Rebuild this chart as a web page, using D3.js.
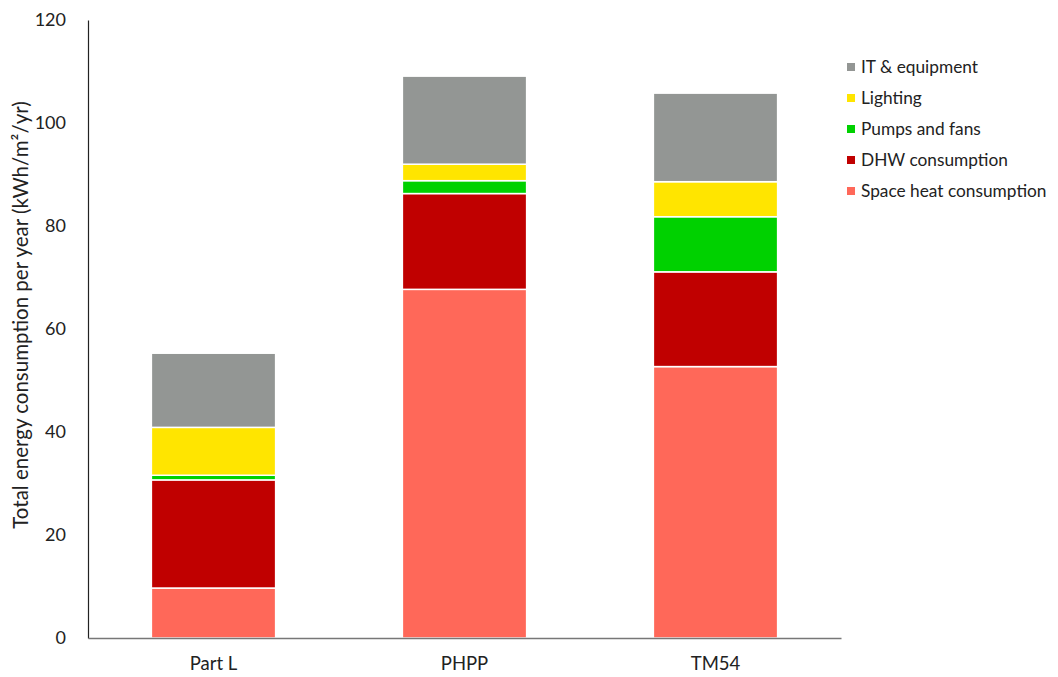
<!DOCTYPE html>
<html>
<head>
<meta charset="utf-8">
<script src="https://cdn.jsdelivr.net/npm/d3@7"></script>
<style>
  body { margin: 0; background: #fff; }
  text { font-family: Lato, "Open Sans", sans-serif; fill: #222; }
</style>
</head>
<body>
<div id="chart"></div>
<script>
// data
const scenarios = ['Part L', 'PHPP', 'TM54'];
const spaceHeat = [9.7, 67.7, 52.7];
const dhw = [21.0, 18.6, 18.4];
const pumpsFans = [0.9, 2.5, 10.7];
const lighting = [9.3, 3.2, 6.8];
const itEquipment = [14.4, 17.1, 17.2];
const seriesNames = ['Space heat consumption', 'DHW consumption', 'Pumps and fans', 'Lighting', 'IT & equipment'];
const seriesColors = ['#ff6859', '#c00000', '#00d100', '#ffe500', '#939694'];
const yTicks = [0, 20, 40, 60, 80, 100, 120];

const width = 1058, height = 677;
const margin = { top: 20, right: 217, bottom: 39, left: 88 };

const svg = d3.select('#chart').append('svg')
  .attr('width', width)
  .attr('height', height);

const rows = scenarios.map((s, i) => ({
  scenario: s,
  'Space heat consumption': spaceHeat[i],
  'DHW consumption': dhw[i],
  'Pumps and fans': pumpsFans[i],
  'Lighting': lighting[i],
  'IT & equipment': itEquipment[i]
}));

const stacked = d3.stack().keys(seriesNames)(rows);

const x = d3.scaleBand()
  .domain(scenarios)
  .range([margin.left, width - margin.right])
  .paddingInner(0.505)
  .paddingOuter(0.2525);

const y = d3.scaleLinear()
  .domain([0, 120])
  .range([height - margin.bottom, margin.top]);

const color = d3.scaleOrdinal().domain(seriesNames).range(seriesColors);

// bars
svg.append('g')
  .selectAll('g')
  .data(stacked)
  .join('g')
    .attr('fill', d => color(d.key))
  .selectAll('rect')
  .data(d => d)
  .join('rect')
    .attr('x', d => x(d.data.scenario))
    .attr('y', d => y(d[1]))
    .attr('width', x.bandwidth())
    .attr('height', d => y(d[0]) - y(d[1]))
    .attr('stroke', '#fff')
    .attr('stroke-width', 1.5);

// y axis
const yAxis = svg.append('g')
  .attr('transform', `translate(${margin.left},0)`)
  .call(d3.axisLeft(y).tickValues(yTicks).tickSize(0).tickPadding(22));
yAxis.select('.domain').attr('stroke', '#222').attr('stroke-width', 1.2);
yAxis.selectAll('text').style('font-size', '18px').attr('fill', '#222');

// x axis
const xAxis = svg.append('g')
  .attr('transform', `translate(0,${height - margin.bottom})`)
  .call(d3.axisBottom(x).tickSize(0).tickPadding(19));
xAxis.select('.domain').attr('stroke', '#777').attr('stroke-width', 1.5);
xAxis.selectAll('text').style('font-size', '18.5px').attr('fill', '#222');

// y axis title
svg.append('text')
  .attr('transform', 'translate(21,315) rotate(-90)')
  .attr('text-anchor', 'middle')
  .attr('dy', '0.35em')
  .style('font-size', '20.5px')
  .text('Total energy consumption per year (kWh/m²/yr)');

// legend, top item first
const legend = svg.append('g')
  .attr('transform', 'translate(847,67)');

const items = legend.selectAll('g')
  .data(seriesNames.slice().reverse())
  .join('g')
    .attr('transform', (d, i) => `translate(0,${i * 31})`);

items.append('rect')
  .attr('x', 0)
  .attr('y', -4)
  .attr('width', 8)
  .attr('height', 8)
  .attr('fill', d => color(d));

items.append('text')
  .attr('x', 14)
  .attr('dy', '0.35em')
  .style('font-size', '17.3px')
  .text(d => d);
</script>
</body>
</html>
